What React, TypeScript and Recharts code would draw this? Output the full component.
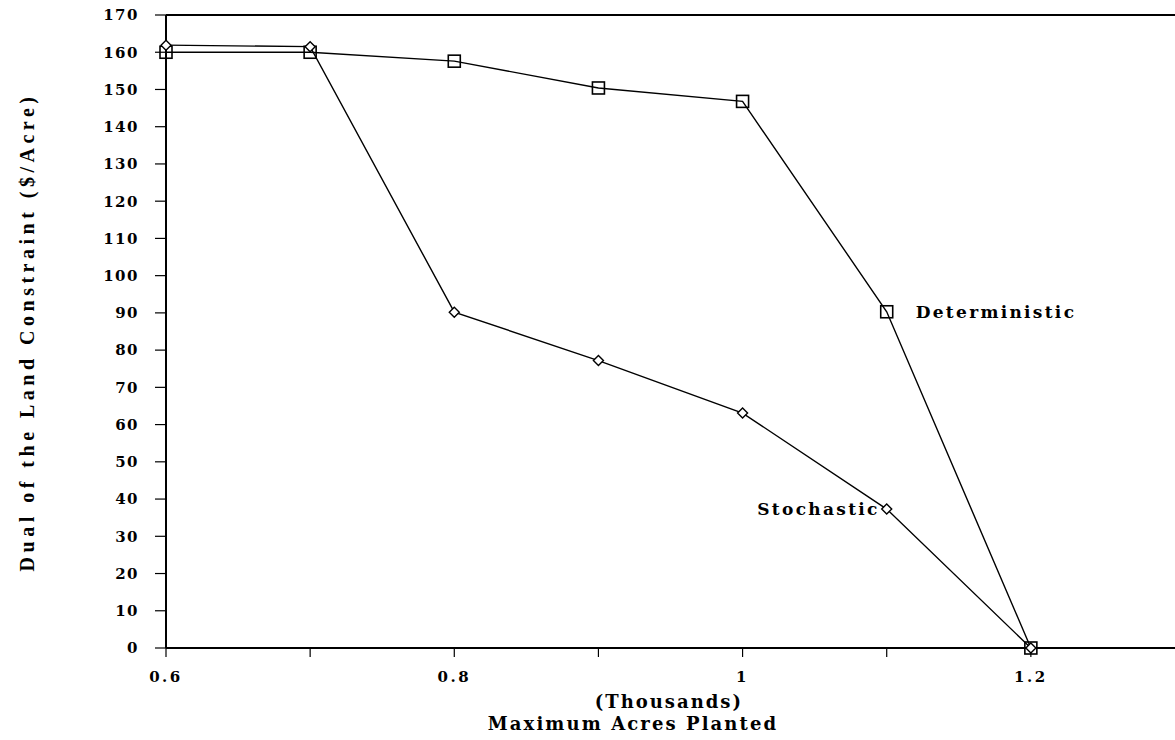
import { LineChart, Line, XAxis, YAxis, ReferenceLine } from 'recharts'

const acres = [0.6, 0.7, 0.8, 0.9, 1.0, 1.1, 1.2]
const deterministic = [160, 160, 157.6, 150.4, 146.8, 90.3, 0]
const stochastic = [161.9, 161.5, 90.2, 77.2, 63.1, 37.3, 0]
const xTicks = [0.6, 0.7, 0.8, 0.9, 1.0, 1.1, 1.2]
const xTickLabels: Record<string, string> = { '0.6': '0.6', '0.8': '0.8', '1': '1', '1.2': '1.2' }
const yTicks = [0, 10, 20, 30, 40, 50, 60, 70, 80, 90, 100, 110, 120, 130, 140, 150, 160, 170]

const data = acres.map((a, i) => ({
  acres: a,
  deterministic: deterministic[i],
  stochastic: stochastic[i],
}))

const font = '"DejaVu Serif", serif'
const titleFont = '"Liberation Serif", serif'

// hollow square marker
const SquareDot = (props: any) => {
  const { cx, cy, index } = props
  return <rect key={`sq-${index}`} x={cx - 6} y={cy - 6} width={12} height={12} fill="none" stroke="#000" strokeWidth={1.6} />
}

// hollow diamond marker
const DiamondDot = (props: any) => {
  const { cx, cy, index } = props
  const r = 5
  return (
    <path
      key={`dm-${index}`}
      d={`M${cx} ${cy - r}L${cx + r} ${cy}L${cx} ${cy + r}L${cx - r} ${cy}Z`}
      fill="#fff"
      stroke="#000"
      strokeWidth={1.4}
    />
  )
}

const seriesLabel = (text: string, side: 'left' | 'right') => (props: any) => {
  const { x, y, index } = props
  if (index !== 5) return null
  return (
    <text
      key={`lbl-${text}`}
      x={side === 'right' ? x + 29 : x - 7}
      y={y + 6}
      textAnchor={side === 'right' ? 'start' : 'end'}
      fontFamily={font}
      fontWeight="bold"
      fontSize={17}
      letterSpacing={2.3}
      fill="#000"
    >
      {text}
    </text>
  )
}

const XTick = (props: any) => {
  const { x, y, payload } = props
  const label = xTickLabels[String(payload.value)]
  if (!label) return null
  return (
    <text x={x} y={y + 23} textAnchor="middle" fontFamily={font} fontWeight="bold" fontSize={15} letterSpacing={2.5} fill="#000">
      {label}
    </text>
  )
}

export default function App() {
  return (
    <div style={{ position: 'absolute', left: 0, top: 0, width: 1175, height: 740, background: '#fff' }}>
      <LineChart width={1175} height={740} data={data} margin={{ top: 15, right: 0, bottom: 0, left: 0 }}>
        <XAxis
          dataKey="acres"
          type="number"
          domain={[0.6, 1.3]}
          ticks={xTicks}
          tick={<XTick />}
          tickSize={9}
          tickLine={{ stroke: '#000', strokeWidth: 1.2 }}
          axisLine={{ stroke: '#000', strokeWidth: 2 }}
          height={92}
          label={() => (
            <g>
              <text x={743} y={708} textAnchor="end" fontFamily={font} fontWeight="bold" fontSize={18} letterSpacing={2.0} fill="#000">
                (Thousands)
              </text>
              <text x={633} y={730} textAnchor="middle" fontFamily={font} fontWeight="bold" fontSize={18} letterSpacing={2.1} fill="#000">
                Maximum Acres Planted
              </text>
            </g>
          )}
        />
        <YAxis
          type="number"
          domain={[0, 170]}
          ticks={yTicks}
          interval={0}
          width={166}
          tickSize={11}
          tickMargin={16}
          tickLine={{ stroke: '#000', strokeWidth: 1.2 }}
          axisLine={{ stroke: '#000', strokeWidth: 2 }}
          tick={{ fill: '#000', fontFamily: font, fontWeight: 'bold', fontSize: 15, letterSpacing: 1.5 }}
          label={() => (
            <text
              x={27}
              y={332}
              transform="rotate(-90 27 332)"
              textAnchor="middle"
              dominantBaseline="central"
              fontFamily={titleFont}
              fontWeight="bold"
              fontSize={20}
              letterSpacing={4.5}
              fill="#000"
            >
              Dual of the Land Constraint ($/Acre)
            </text>
          )}
        />
        <ReferenceLine y={170} stroke="#000" strokeWidth={2} ifOverflow="visible" />
        <Line
          type="linear"
          dataKey="deterministic"
          stroke="#000"
          strokeWidth={1.4}
          dot={<SquareDot />}
          activeDot={false}
          isAnimationActive={false}
          label={seriesLabel('Deterministic', 'right')}
        />
        <Line
          type="linear"
          dataKey="stochastic"
          stroke="#000"
          strokeWidth={1.4}
          dot={<DiamondDot />}
          activeDot={false}
          isAnimationActive={false}
          label={seriesLabel('Stochastic', 'left')}
        />
      </LineChart>
    </div>
  )
}
